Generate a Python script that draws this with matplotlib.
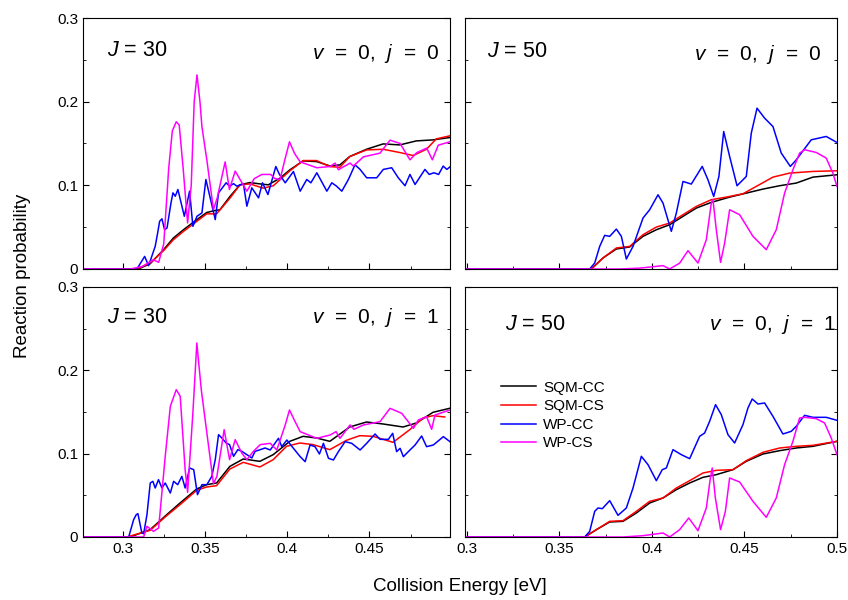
import matplotlib
matplotlib.use("Agg")
import matplotlib.pyplot as plt
from matplotlib.ticker import MultipleLocator, FuncFormatter

plt.rcParams['font.family'] = ['Liberation Sans', 'DejaVu Sans']
plt.rcParams['mathtext.fontset'] = 'custom'
plt.rcParams['mathtext.it'] = 'Liberation Sans:italic'
plt.rcParams['mathtext.rm'] = 'Liberation Sans'

# ---- J = 30, v = 0, j = 0 (top left) ----
tl_cc_x = [0.276, 0.3096, 0.3167, 0.3248, 0.3308, 0.3369, 0.3450, 0.3511, 0.3561, 0.3591, 0.3652, 0.3713,
           0.3774, 0.3834, 0.3885, 0.3956, 0.4016, 0.4097, 0.4178, 0.4259, 0.4320, 0.4380, 0.4482, 0.4583,
           0.4684, 0.4785, 0.4886, 0.4987]
tl_cc_y = [0, 0, 0.0062, 0.0229, 0.0369, 0.0468, 0.0588, 0.0675, 0.0699, 0.0707, 0.0866, 0.1006,
           0.1033, 0.1017, 0.1006, 0.1085, 0.1185, 0.1292, 0.1284, 0.1232, 0.1244, 0.1344, 0.1431, 0.1495,
           0.1483, 0.1531, 0.1543, 0.1571]
tl_cs_x = [0.276, 0.3086, 0.3167, 0.3248, 0.3308, 0.3369, 0.3450, 0.3511, 0.3571, 0.3652, 0.3713, 0.3774,
           0.3854, 0.3915, 0.4016, 0.4097, 0.4178, 0.4259, 0.4320, 0.4380, 0.4482, 0.4583, 0.4684, 0.4765,
           0.4846, 0.4906, 0.4987]
tl_cs_y = [0, 0, 0.0070, 0.0217, 0.0349, 0.0448, 0.0568, 0.0659, 0.0659, 0.0846, 0.1006, 0.1017,
           0.0966, 0.0994, 0.1173, 0.1296, 0.1296, 0.1224, 0.1216, 0.1344, 0.1423, 0.1431, 0.1392, 0.1356,
           0.1431, 0.1555, 0.1591]
tl_wpcc_x = [0.276, 0.3087, 0.3134, 0.3158, 0.3198, 0.3212, 0.3225, 0.3239, 0.3255, 0.3270, 0.3294, 0.3306,
             0.3320, 0.3336, 0.3375, 0.3407, 0.3427, 0.3452, 0.3482, 0.3506, 0.3563, 0.3583, 0.3629, 0.3650,
             0.3674, 0.3694, 0.3734, 0.3755, 0.3785, 0.3826, 0.3850, 0.3883, 0.3913, 0.3931, 0.3953, 0.3988,
             0.4038, 0.4079, 0.4119, 0.4144, 0.4180, 0.4241, 0.4271, 0.4300, 0.4332, 0.4372, 0.4412, 0.4443,
             0.4483, 0.4544, 0.4584, 0.4635, 0.4675, 0.4716, 0.4746, 0.4777, 0.4837, 0.4863, 0.4892, 0.4920,
             0.4948, 0.4970, 0.4989]
tl_wpcc_y = [0, 0, 0.015, 0.004, 0.027, 0.042, 0.057, 0.060, 0.047, 0.049, 0.079, 0.091,
             0.087, 0.095, 0.063, 0.093, 0.051, 0.063, 0.067, 0.107, 0.059, 0.091, 0.103, 0.099,
             0.102, 0.099, 0.102, 0.075, 0.097, 0.085, 0.103, 0.089, 0.110, 0.1225, 0.113, 0.103,
             0.1165, 0.093, 0.107, 0.103, 0.115, 0.093, 0.103, 0.099, 0.093, 0.107, 0.1245, 0.119,
             0.109, 0.109, 0.119, 0.121, 0.109, 0.0995, 0.113, 0.101, 0.119, 0.113, 0.115, 0.113,
             0.123, 0.119, 0.122]
tl_wpcs_x = [0.276, 0.3047, 0.312, 0.3186, 0.3219, 0.3250, 0.3280, 0.3302, 0.3326, 0.3344, 0.3368, 0.3395,
             0.3417, 0.3435, 0.3452, 0.3470, 0.3482, 0.3512, 0.3552, 0.3575, 0.3623, 0.3649, 0.3684, 0.3755,
             0.3800, 0.3846, 0.3900, 0.3925, 0.3957, 0.3985, 0.4014, 0.4045, 0.4079, 0.4180, 0.4261, 0.4291,
             0.4311, 0.4382, 0.4402, 0.4463, 0.4564, 0.4625, 0.4686, 0.4746, 0.4787, 0.4848, 0.4882, 0.4918,
             0.4989]
tl_wpcs_y = [0, 0, 0.003, 0.011, 0.008, 0.030, 0.120, 0.165, 0.176, 0.172, 0.120, 0.055,
             0.100, 0.200, 0.232, 0.200, 0.170, 0.130, 0.071, 0.085, 0.128, 0.095, 0.117, 0.093,
             0.108, 0.113, 0.113, 0.108, 0.107, 0.130, 0.152, 0.138, 0.128, 0.121, 0.1225, 0.1266,
             0.1186, 0.1266, 0.123, 0.134, 0.1385, 0.154, 0.150, 0.1305, 0.139, 0.1445, 0.1305, 0.148,
             0.152]

# ---- J = 30, v = 0, j = 1 (bottom left) ----
bl_cc_x = [0.276, 0.3045, 0.3167, 0.3268, 0.3349, 0.3450, 0.3511, 0.3571, 0.3652, 0.3733, 0.3834, 0.3915,
           0.4016, 0.4097, 0.4178, 0.4259, 0.4380, 0.4482, 0.4583, 0.4704, 0.4785, 0.4886, 0.4987]
bl_cc_y = [0, 0, 0.0088, 0.0268, 0.0408, 0.0576, 0.0628, 0.0648, 0.0848, 0.0936, 0.0908, 0.0988,
           0.1148, 0.1208, 0.1188, 0.1148, 0.1320, 0.1380, 0.1356, 0.1320, 0.1368, 0.1496, 0.1544]
bl_cs_x = [0.276, 0.3025, 0.3167, 0.3268, 0.3349, 0.3450, 0.3511, 0.3571, 0.3652, 0.3733, 0.3834, 0.3915,
           0.3996, 0.4077, 0.4158, 0.4259, 0.4360, 0.4441, 0.4522, 0.4643, 0.4745, 0.4825, 0.4886, 0.4957]
bl_cs_y = [0, 0, 0.0080, 0.0256, 0.0388, 0.0560, 0.0600, 0.0616, 0.0816, 0.0896, 0.0840, 0.0928,
           0.1088, 0.1128, 0.1108, 0.1048, 0.1160, 0.1216, 0.1208, 0.1136, 0.1288, 0.1428, 0.1456, 0.1440]
bl_wpcc_x = [0.276, 0.3037, 0.3067, 0.3083, 0.3093, 0.3117, 0.3128, 0.3148, 0.3168, 0.3184, 0.3198, 0.3218,
             0.3239, 0.3259, 0.3290, 0.3310, 0.3335, 0.3360, 0.3380, 0.3407, 0.3432, 0.3455, 0.3482, 0.3512,
             0.3542, 0.3563, 0.3583, 0.3603, 0.3629, 0.3650, 0.3674, 0.3700, 0.3724, 0.3755, 0.3785, 0.3805,
             0.3836, 0.3866, 0.3897, 0.3947, 0.3967, 0.3998, 0.4038, 0.4079, 0.4109, 0.4139, 0.4169, 0.4196,
             0.4220, 0.4251, 0.4281, 0.4311, 0.4352, 0.4392, 0.4443, 0.4483, 0.4534, 0.4564, 0.4615, 0.4641,
             0.4665, 0.4686, 0.4706, 0.4746, 0.4777, 0.4817, 0.4847, 0.4888, 0.4949, 0.4989]
bl_wpcc_y = [0, 0, 0.0208, 0.0268, 0.0280, 0.0048, 0.0040, 0.0268, 0.0648, 0.0668, 0.0588, 0.0688,
             0.0588, 0.0648, 0.0528, 0.0668, 0.0628, 0.0728, 0.0588, 0.0828, 0.0808, 0.0508, 0.0628, 0.0628,
             0.0728, 0.0928, 0.1228, 0.1188, 0.1128, 0.1108, 0.0968, 0.1048, 0.1028, 0.0988, 0.0948, 0.1028,
             0.1048, 0.1068, 0.1044, 0.1184, 0.1084, 0.1164, 0.1064, 0.0964, 0.0904, 0.1104, 0.1084, 0.0996,
             0.1124, 0.0944, 0.0924, 0.1024, 0.1144, 0.1124, 0.1044, 0.1124, 0.1236, 0.1172, 0.1172, 0.1244,
             0.1024, 0.1064, 0.0964, 0.1044, 0.1104, 0.1212, 0.1084, 0.1104, 0.1204, 0.1144]
bl_wpcs_x = [0.276, 0.3128, 0.3148, 0.3188, 0.3219, 0.3259, 0.3290, 0.3326, 0.3350, 0.3380, 0.3395, 0.3427,
             0.3451, 0.3478, 0.3512, 0.3552, 0.3573, 0.3617, 0.3650, 0.3684, 0.3724, 0.3755, 0.3795, 0.3836,
             0.3897, 0.3937, 0.3988, 0.4014, 0.4048, 0.4079, 0.4180, 0.4261, 0.4297, 0.4321, 0.4382, 0.4406,
             0.4463, 0.4564, 0.4625, 0.4696, 0.4767, 0.4797, 0.4847, 0.4878, 0.4898, 0.4989]
bl_wpcs_y = [0, 0, 0.0128, 0.0068, 0.0108, 0.0968, 0.1568, 0.1768, 0.1688, 0.0808, 0.0536, 0.1488,
             0.2328, 0.1768, 0.1248, 0.0640, 0.0728, 0.1288, 0.0928, 0.1168, 0.1008, 0.0928, 0.1028, 0.1108,
             0.1124, 0.1044, 0.1344, 0.1524, 0.1384, 0.1264, 0.1184, 0.1224, 0.1264, 0.1184, 0.1344, 0.1292,
             0.1344, 0.1384, 0.1544, 0.1484, 0.1304, 0.1404, 0.1444, 0.1292, 0.1464, 0.1524]

# ---- J = 50, v = 0, j = 0 (top right) ----
tr_cc_x = [0.299, 0.3673, 0.3736, 0.3808, 0.3880, 0.3952, 0.4024, 0.4096, 0.4168, 0.4240, 0.4321, 0.4420,
           0.4510, 0.4600, 0.4690, 0.4780, 0.4870, 0.5000]
tr_cc_y = [0, 0, 0.0132, 0.0239, 0.0263, 0.0390, 0.0469, 0.0529, 0.0629, 0.0728, 0.0796, 0.0859,
           0.0907, 0.0955, 0.0995, 0.1027, 0.1098, 0.1126]
tr_cs_x = [0.299, 0.3673, 0.3736, 0.3808, 0.3880, 0.3952, 0.4024, 0.4096, 0.4168, 0.4240, 0.4321, 0.4402,
           0.4492, 0.4564, 0.4654, 0.4744, 0.4870, 0.5000]
tr_cs_y = [0, 0, 0.0132, 0.0251, 0.0270, 0.0410, 0.0501, 0.0549, 0.0649, 0.0748, 0.0828, 0.0859,
           0.0899, 0.0987, 0.1098, 0.1146, 0.1166, 0.1174]
tr_wpcc_x = [0.299, 0.3664, 0.3691, 0.3718, 0.3745, 0.3772, 0.3808, 0.3835, 0.3862, 0.3898, 0.3952, 0.3988,
             0.4033, 0.4060, 0.4105, 0.4132, 0.4168, 0.4213, 0.4272, 0.4303, 0.4334, 0.4362, 0.4388, 0.4420,
             0.4460, 0.4510, 0.4537, 0.4568, 0.4609, 0.4654, 0.4699, 0.4748, 0.4780, 0.4861, 0.4942, 0.5000]
tr_wpcc_y = [0, 0, 0.0071, 0.0270, 0.0402, 0.0390, 0.0477, 0.0390, 0.0119, 0.0270, 0.0609, 0.0708,
             0.0887, 0.0788, 0.0450, 0.0668, 0.1046, 0.1015, 0.1226, 0.1066, 0.0867, 0.1106, 0.1643, 0.1345,
             0.0995, 0.1106, 0.1624, 0.1922, 0.1803, 0.1703, 0.1385, 0.1226, 0.1305, 0.1544, 0.1584, 0.1512]
tr_wpcs_x = [0.299, 0.3826, 0.3934, 0.4060, 0.4096, 0.4150, 0.4195, 0.4249, 0.4294, 0.4321, 0.4330, 0.4348,
             0.4371, 0.4393, 0.4420, 0.4474, 0.4546, 0.4618, 0.4672, 0.4717, 0.4762, 0.4798, 0.4825, 0.4888,
             0.4942, 0.4978, 0.5000]
tr_wpcs_y = [0, 0, 0.001, 0.004, 0.000, 0.007, 0.0219, 0.0071, 0.035, 0.0788, 0.0828, 0.0469,
             0.0079, 0.0310, 0.0708, 0.0649, 0.0390, 0.0231, 0.0469, 0.0907, 0.1186, 0.1385, 0.1425, 0.1393,
             0.1325, 0.1146, 0.0987]

# ---- J = 50, v = 0, j = 1 (bottom right) ----
br_cc_x = [0.299, 0.3637, 0.3700, 0.3772, 0.3844, 0.3916, 0.3988, 0.4060, 0.4132, 0.4204, 0.4276, 0.4348,
           0.4438, 0.4510, 0.4600, 0.4690, 0.4780, 0.4870, 0.5000]
br_cc_y = [0, 0, 0.0088, 0.0180, 0.0188, 0.0288, 0.0408, 0.0468, 0.0568, 0.0648, 0.0716, 0.0748,
           0.0808, 0.0908, 0.0996, 0.1036, 0.1068, 0.1088, 0.1148]
br_cs_x = [0.299, 0.3637, 0.3700, 0.3772, 0.3844, 0.3916, 0.3988, 0.4060, 0.4132, 0.4204, 0.4276, 0.4348,
           0.4438, 0.4510, 0.4600, 0.4690, 0.4780, 0.4870, 0.5000]
br_cs_y = [0, 0, 0.0088, 0.0188, 0.0196, 0.0308, 0.0428, 0.0468, 0.0588, 0.0676, 0.0768, 0.0800,
           0.0808, 0.0916, 0.1016, 0.1068, 0.1088, 0.1100, 0.1148]
br_wpcc_x = [0.299, 0.3637, 0.3664, 0.3691, 0.3709, 0.3732, 0.3772, 0.3817, 0.3862, 0.3898, 0.3943, 0.3979,
             0.4024, 0.4056, 0.4078, 0.4114, 0.4159, 0.4204, 0.4258, 0.4285, 0.4312, 0.4344, 0.4375, 0.4411,
             0.4447, 0.4492, 0.4519, 0.4542, 0.4573, 0.4609, 0.4654, 0.4708, 0.4753, 0.4780, 0.4825, 0.4870,
             0.4942, 0.5000]
br_wpcc_y = [0, 0, 0.0068, 0.0308, 0.0348, 0.0340, 0.0436, 0.0260, 0.0348, 0.0588, 0.0968, 0.0868,
             0.0676, 0.0808, 0.0828, 0.1048, 0.0988, 0.0940, 0.1208, 0.1248, 0.1388, 0.1588, 0.1468, 0.1228,
             0.1128, 0.1348, 0.1548, 0.1656, 0.1596, 0.1608, 0.1448, 0.1236, 0.1268, 0.1328, 0.1460, 0.1436,
             0.1436, 0.1400]
br_wpcs_x = [0.299, 0.3844, 0.3952, 0.4060, 0.4096, 0.4150, 0.4199, 0.4249, 0.4294, 0.4316, 0.4326, 0.4343,
             0.4371, 0.4397, 0.4420, 0.4474, 0.4546, 0.4618, 0.4672, 0.4717, 0.4762, 0.4798, 0.4825, 0.4888,
             0.4933, 0.4969, 0.5000]
br_wpcs_y = [0, 0, 0.0016, 0.0048, 0.0000, 0.0088, 0.0228, 0.0076, 0.0348, 0.0708, 0.0828, 0.0468,
             0.0088, 0.0308, 0.0708, 0.0660, 0.0428, 0.0236, 0.0468, 0.0868, 0.1148, 0.1428, 0.1436, 0.1420,
             0.1368, 0.1188, 0.0988]

labels = ["SQM-CC", "SQM-CS", "WP-CC", "WP-CS"]
colors = ["black", "red", "blue", "magenta"]

panels = [
    # (axes rect, xlim, series, J text, vj text, positions)
    ([0.098, 0.5517, 0.4328, 0.4183], (0.276, 0.499),
     [(tl_cc_x, tl_cc_y), (tl_cs_x, tl_cs_y), (tl_wpcc_x, tl_wpcc_y), (tl_wpcs_x, tl_wpcs_y)],
     r"$J$ = 30", r"$v$  =  0,  $j$  =  0", (0.065, 0.87), (0.625, 0.86)),
    ([0.5483, 0.5517, 0.4387, 0.4183], (0.299, 0.5),
     [(tr_cc_x, tr_cc_y), (tr_cs_x, tr_cs_y), (tr_wpcc_x, tr_wpcc_y), (tr_wpcs_x, tr_wpcs_y)],
     r"$J$ = 50", r"$v$  =  0,  $j$  =  0", (0.06, 0.865), (0.615, 0.853)),
    ([0.098, 0.105, 0.4328, 0.4167], (0.276, 0.499),
     [(bl_cc_x, bl_cc_y), (bl_cs_x, bl_cs_y), (bl_wpcc_x, bl_wpcc_y), (bl_wpcs_x, bl_wpcs_y)],
     r"$J$ = 30", r"$v$  =  0,  $j$  =  1", (0.065, 0.876), (0.625, 0.876)),
    ([0.5483, 0.105, 0.4387, 0.4167], (0.299, 0.5),
     [(br_cc_x, br_cc_y), (br_cs_x, br_cs_y), (br_wpcc_x, br_wpcc_y), (br_wpcs_x, br_wpcs_y)],
     r"$J$ = 50", r"$v$  =  0,  $j$  =  1", (0.108, 0.848), (0.655, 0.848)),
]

fig = plt.figure(figsize=(8.48, 6), dpi=100)

for i, (rect, xlim, series, jtxt, vtxt, jpos, vpos) in enumerate(panels):
    ax = fig.add_axes(rect)
    for (xs, ys), c, lab in zip(series, colors, labels):
        ax.plot(xs, ys, color=c, lw=1.1, label=lab, solid_joinstyle="round")
    ax.set_xlim(*xlim)
    ax.set_ylim(0, 0.3)
    ax.xaxis.set_major_locator(MultipleLocator(0.05))
    ax.xaxis.set_minor_locator(MultipleLocator(0.025))
    ax.yaxis.set_major_locator(MultipleLocator(0.1))
    ax.yaxis.set_minor_locator(MultipleLocator(0.05))
    ax.xaxis.set_major_formatter(FuncFormatter(lambda v, p: "%g" % round(v, 3)))
    ax.yaxis.set_major_formatter(FuncFormatter(lambda v, p: "%g" % round(v, 3)))
    ax.tick_params(which="both", direction="in", right=True, labelsize=11)
    ax.tick_params(which="major", length=4)
    ax.tick_params(which="minor", length=2.5)
    if i < 2:
        ax.tick_params(labelbottom=False)
    if i % 2 == 1:
        ax.tick_params(labelleft=False)
    ax.text(jpos[0], jpos[1], jtxt, transform=ax.transAxes, fontsize=15.5, va="center")
    ax.text(vpos[0], vpos[1], vtxt, transform=ax.transAxes, fontsize=15, va="center")
    if i == 3:
        ax.legend(loc="upper left", bbox_to_anchor=(0.06, 0.68), frameon=False, fontsize=11,
                  handlelength=2.3, handletextpad=0.45, labelspacing=0.3)

fig.text(0.027, 0.54, "Reaction probability", rotation=90, ha="center", va="center", fontsize=13.5)
fig.text(0.542, 0.022, "Collision Energy [eV]", ha="center", va="center", fontsize=13.5)

fig.savefig("out.png", dpi=100)
